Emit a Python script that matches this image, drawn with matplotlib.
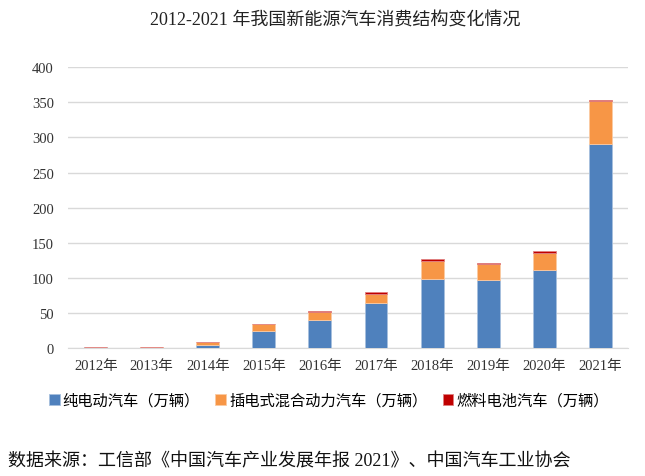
import matplotlib.pyplot as plt
import numpy as np

plt.rcParams['font.family'] = ['Liberation Serif', 'Noto Sans CJK SC']

years = ["2012年", "2013年", "2014年", "2015年", "2016年",
         "2017年", "2018年", "2019年", "2020年", "2021年"]
bev = [1.1, 0.6, 4.2, 24.7, 40.5, 64.5, 97.8, 96.5, 110.8, 291.0]
phev = [1.0, 0.9, 4.3, 10.2, 11.5, 12.6, 27.0, 22.7, 24.6, 61.0]
fcv = [0.0, 0.0, 0.0, 0.0, 0.3, 2.2, 2.2, 2.6, 2.6, 1.5]

series_names = ["纯电动汽车（万辆）", "插电式混合动力汽车（万辆）", "燃料电池汽车（万辆）"]
colors = ["#4f81bd", "#f79646", "#c00000"]
edges = ["#a7c0de", "#fbcaa2", "#e08080"]

fig = plt.figure(figsize=(6.45, 4.77), dpi=100)
ax = fig.add_axes([0.105, 0.268, 0.869, 0.589])

x = np.arange(len(years))
w = 0.41
bottom = np.zeros(len(years))
for vals, name, c, ec in zip([bev, phev, fcv], series_names, colors, edges):
    ax.bar(x, vals, w, bottom=bottom, color=c, edgecolor=ec, linewidth=0.6,
           label=name, zorder=3)
    bottom += np.array(vals)

ax.set_ylim(0, 400)
ax.set_xlim(-0.5, len(years) - 0.5)
ax.set_yticks(range(0, 401, 50))
ax.yaxis.grid(True, color="#d9d9d9", linewidth=1, zorder=0)
for s in ["top", "right", "left"]:
    ax.spines[s].set_visible(False)
ax.spines["bottom"].set_color("#d9d9d9")
ax.tick_params(axis="both", length=0, labelsize=10.5, colors="#333333")
ax.tick_params(axis="x", pad=8)
ax.tick_params(axis="y", pad=10)
ax.set_xticks(x)
ax.set_xticklabels(years)

fig.text(0.52, 0.955, "2012-2021 年我国新能源汽车消费结构变化情况",
         ha="center", va="center", fontsize=13, color="#222222")

fig.legend(loc="center", bbox_to_anchor=(0.51, 0.158), ncol=3, frameon=False,
           fontsize=11, handlelength=0.7, handleheight=0.7, handletextpad=0.2,
           columnspacing=1.0)

fig.text(0.012, 0.032, "数据来源：工信部《中国汽车产业发展年报 2021》、中国汽车工业协会",
         ha="left", va="center", fontsize=13, color="#111111")

fig.savefig("out.png", dpi=100)
